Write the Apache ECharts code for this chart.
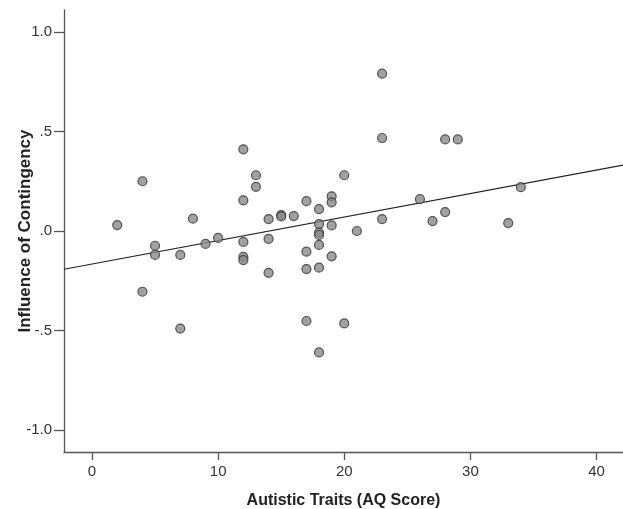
<!DOCTYPE html>
<html>
<head>
<meta charset="utf-8">
<script src="https://cdn.jsdelivr.net/npm/echarts@6/dist/echarts.min.js"></script>
<style>html,body{margin:0;padding:0;background:#fff}#c{width:623px;height:509px}</style>
</head>
<body>
<div id="c"></div>
<script>
const aqScores = [2,4,4,5,5,7,7,8,9,10,12,12,12,12,12,13,13,14,14,14,15,15,16,17,17,17,17,18,18,18,18,18,18,18,19,19,19,19,20,20,21,23,23,23,26,27,28,28,29,33,34];
const contingency = [0.03,0.25,-0.305,-0.074,-0.12,-0.12,-0.49,0.062,-0.065,-0.035,0.41,0.154,-0.055,-0.13,-0.146,0.28,0.222,0.06,-0.04,-0.21,0.08,0.073,0.075,0.15,-0.104,-0.191,-0.452,0.11,0.035,-0.008,-0.02,-0.07,-0.184,-0.61,0.174,0.144,0.028,-0.127,0.28,-0.464,0.0,0.79,0.467,0.06,0.16,0.05,0.46,0.095,0.46,0.04,0.22];
const fitX = [-2.22, 42.1];
const fitY = [-0.192, 0.331];
const xTicks = [0,10,20,30,40];
const yTicks = [-1.0,-0.5,0,0.5,1.0];
const yTickLabels = ['-1.0','-.5','.0','.5','1.0'];
const xTitle = 'Autistic Traits (AQ Score)';
const yTitle = 'Influence of Contingency';

const pts = aqScores.map((x,i)=>[x, contingency[i]]);
const fit = fitX.map((x,i)=>[x, fitY[i]]);
const font = '"Liberation Sans", Arial, sans-serif';
const chart = echarts.init(document.getElementById('c'), null, {renderer:'canvas'});
chart.setOption({
  animation:false,
  backgroundColor:'#fff',
  grid:{left:64, top:10, right:0, bottom:57, containLabel:false, outerBoundsMode:'none'},
  xAxis:{
    type:'value', min:-2.22, max:42.1,
    name:xTitle, nameLocation:'middle', nameGap:41, nameMoveOverlap:false,
    nameTextStyle:{fontFamily:font, fontWeight:'bold', fontSize:16, color:'#222'},
    axisLine:{show:true, onZero:false, lineStyle:{color:'#555', width:1.3}},
    axisTick:{show:true, length:8, customValues:xTicks, lineStyle:{color:'#555', width:1.3}},
    axisLabel:{customValues:xTicks, margin:12, fontFamily:font, fontSize:15, color:'#333'},
    splitLine:{show:false}
  },
  yAxis:{
    type:'value', min:-1.11, max:1.11,
    name:yTitle, nameLocation:'middle', nameGap:30, nameRotate:90, nameMoveOverlap:false,
    nameTextStyle:{fontFamily:font, fontWeight:'bold', fontSize:17, color:'#222'},
    axisLine:{show:true, onZero:false, lineStyle:{color:'#555', width:1.3}},
    axisTick:{show:true, length:10, customValues:yTicks, lineStyle:{color:'#555', width:1.3}},
    axisLabel:{customValues:yTicks, margin:12, fontFamily:font, fontSize:15, color:'#333',
      formatter:v=>{const i=yTicks.findIndex(t=>Math.abs(t-v)<1e-9);return i>=0?yTickLabels[i]:'';}},
    splitLine:{show:false}
  },
  series:[
    {type:'line', data:fit, symbol:'none', lineStyle:{color:'#222', width:1.2}, z:1, silent:true},
    {type:'scatter', data:pts, symbolSize:9, itemStyle:{color:'#8a8a8a', borderColor:'#333', borderWidth:1.2}, z:2}
  ]
});
</script>
</body>
</html>
